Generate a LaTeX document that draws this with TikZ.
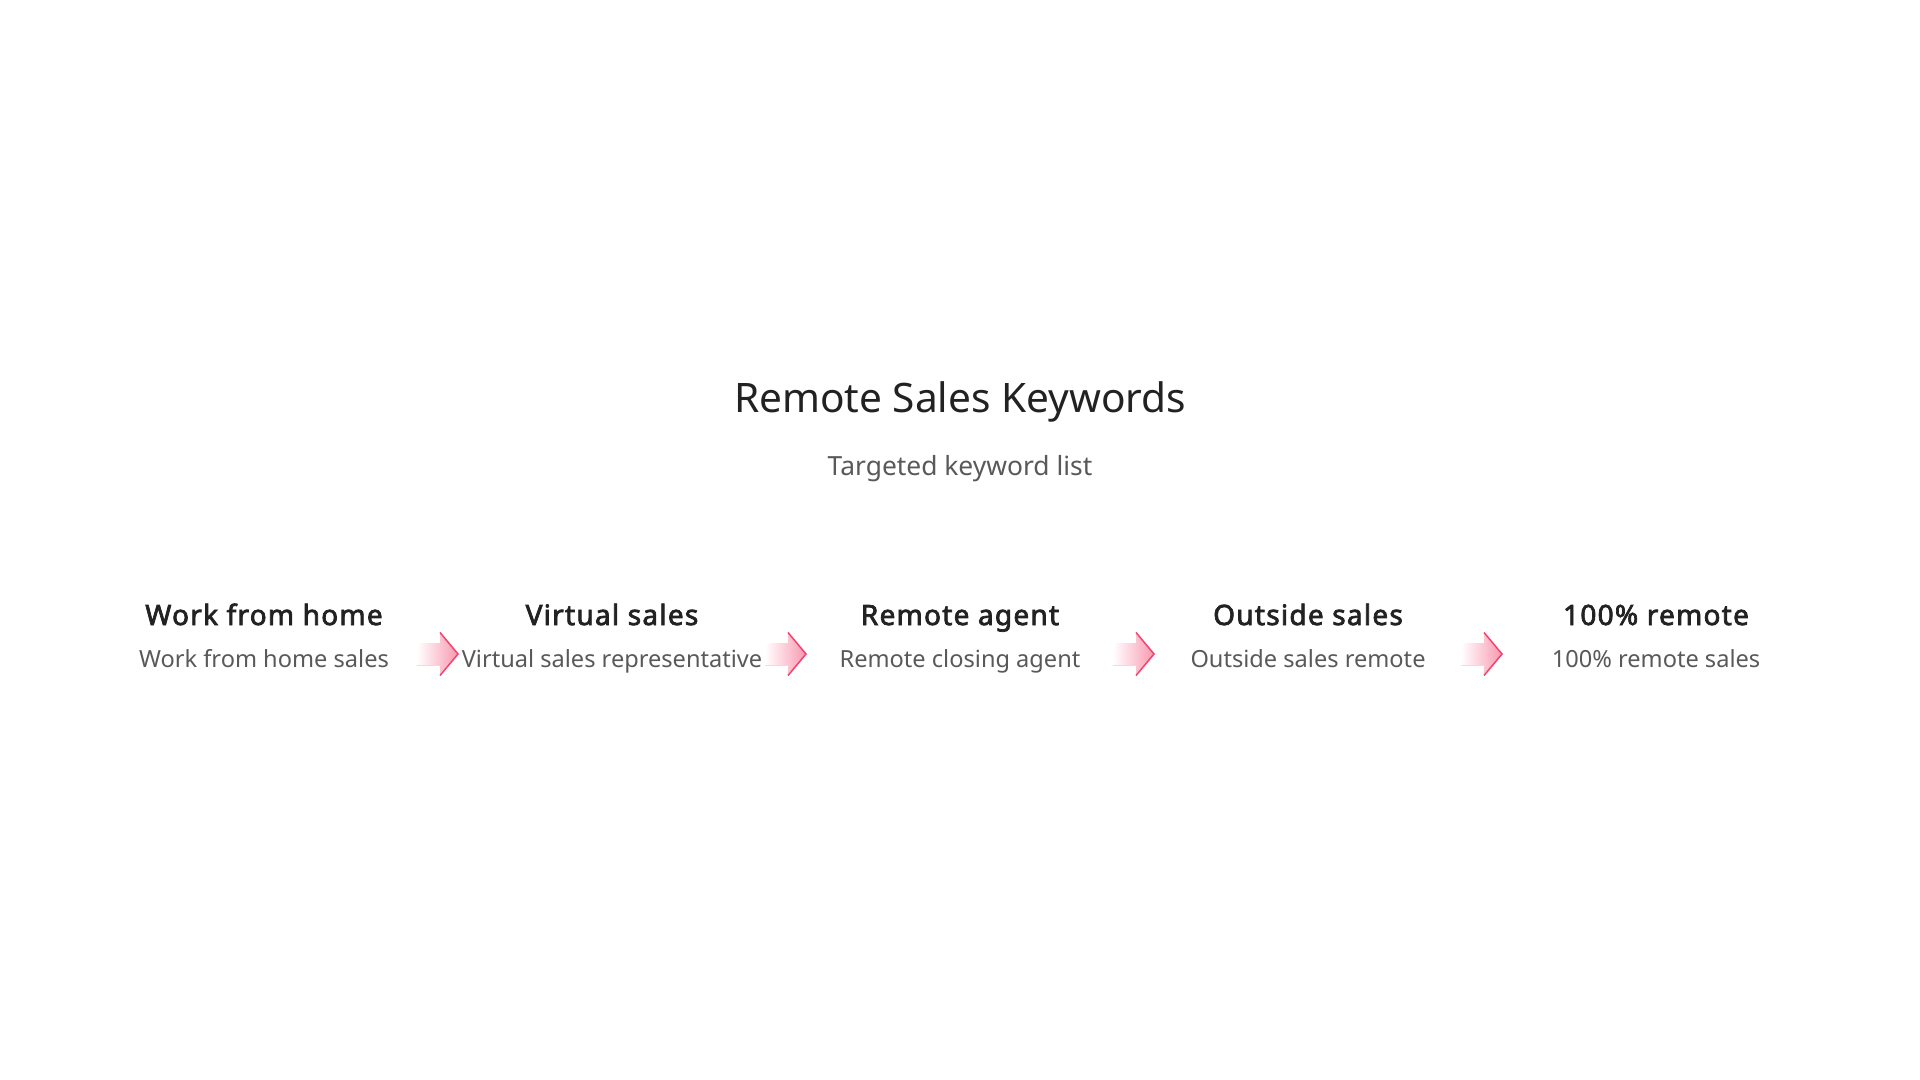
\documentclass[tikz,border=0pt]{standalone}
\usepackage{fontspec}
\setmainfont{Noto Sans}
\newfontfamily\headfont{Noto Sans}[FakeBold=2.6, LetterSpace=4.5]
\usetikzlibrary{positioning}
\definecolor{inkdark}{HTML}{222222}
\definecolor{inkgray}{HTML}{595959}
\definecolor{arrowpink}{HTML}{F5436F}

\begin{document}
\begin{tikzpicture}[x=0.5pt, y=-0.5pt,
	heading/.style={font=\headfont\fontsize{14}{16}\selectfont, text=inkdark, anchor=base, inner sep=0pt},
	keyword/.style={font=\fontsize{11.8}{14}\selectfont, text=inkgray, anchor=base, inner sep=0pt},
	chevron/.pic={
		\fill[left color=white, right color=arrowpink!55] (-21,-11) -- (2,-11) -- (2,-21.5) -- (20,0) -- (2,21.5) -- (2,11) -- (-21,11) -- cycle;
		\draw[arrowpink, line width=0.75pt, line join=miter] (2,-21.5) -- (20,0) -- (2,21.5);
	}]
		\fill[white] (0,0) rectangle (1920,1080);
		\useasboundingbox (0,0) rectangle (1920,1080);
		\node[font=\fontsize{20.3}{24}\selectfont, text=inkdark, anchor=base, inner sep=0pt] (title) at (960,412) {Remote Sales Keywords};
		\node[font=\fontsize{13.2}{16}\selectfont, text=inkgray, anchor=base, inner sep=0pt] (subtitle) at (960,475) {Targeted keyword list};
		\node[heading] (home) at (264,625) {Work from home};
		\node[heading] (virtual) at (612,625) {Virtual sales};
		\node[heading] (agent) at (960,625) {Remote agent};
		\node[heading] (outside) at (1308,625) {Outside sales};
		\node[heading] (full) at (1656,625) {100\% remote};
		\node[keyword] (homesales) at (264,667) {Work from home sales};
		\node[keyword] (virtualrep) at (612,667) {Virtual sales representative};
		\node[keyword] (closing) at (960,667) {Remote closing agent};
		\node[keyword] (outsideremote) at (1308,667) {Outside sales remote};
		\node[keyword] (fullsales) at (1656,667) {100\% remote sales};
		\coordinate (step1) at (438,654);
		\coordinate (step2) at (786,654);
		\coordinate (step3) at (1134,654);
		\coordinate (step4) at (1482,654);
		\pic at (step1) {chevron};
		\pic at (step2) {chevron};
		\pic at (step3) {chevron};
		\pic at (step4) {chevron};
\end{tikzpicture}
\end{document}
